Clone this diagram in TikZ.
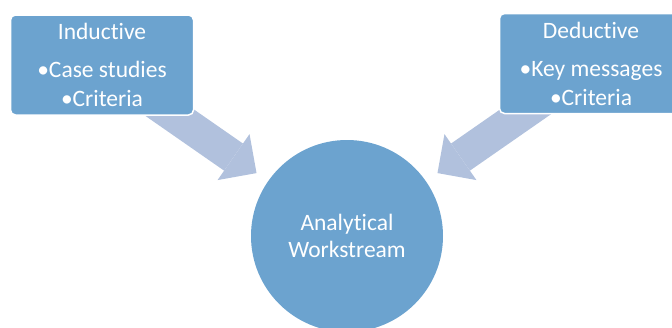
\documentclass[tikz,border=0pt]{standalone}
\usepackage{fontspec}
\setmainfont[Ligatures=NoCommon]{Carlito}
\usetikzlibrary{arrows.meta,backgrounds}
\definecolor{boxblue}{RGB}{108,163,207}
\definecolor{flowblue}{RGB}{177,193,221}

\begin{document}
\begin{tikzpicture}[x=1pt,y=-1pt,
  box/.style={draw=white,line width=1.5pt,fill=boxblue,rounded corners=5pt,minimum width=183pt,minimum height=100pt,align=center,text=white,inner sep=0pt,font=\fontsize{23.5}{29}\selectfont},
  hub/.style={circle,fill=boxblue,minimum size=192pt,align=center,text=white,inner sep=0pt,font=\fontsize{23.5}{27}\selectfont},
  flow/.style={flowblue,line width=33pt,shorten >=14pt,-{Triangle[width=56pt,length=28pt,line width=0pt]}}]
\useasboundingbox (0,0) rectangle (672,327);
\node [box] (ind) at (102,65) {Inductive\\[9pt]•Case studies\\•Criteria};
\node [box] (ded) at (591,63.5) {Deductive\\[9pt]•Key messages\\•Criteria};
\node [hub] (ana) at (347,236) {Analytical\\Workstream};
\coordinate (indtail) at (150,99);
\coordinate (dedtail) at (544,99);
\begin{scope}[on background layer]
\draw [flow] (indtail) -- (ana);
\draw [flow] (dedtail) -- (ana);
\end{scope}
\end{tikzpicture}
\end{document}
